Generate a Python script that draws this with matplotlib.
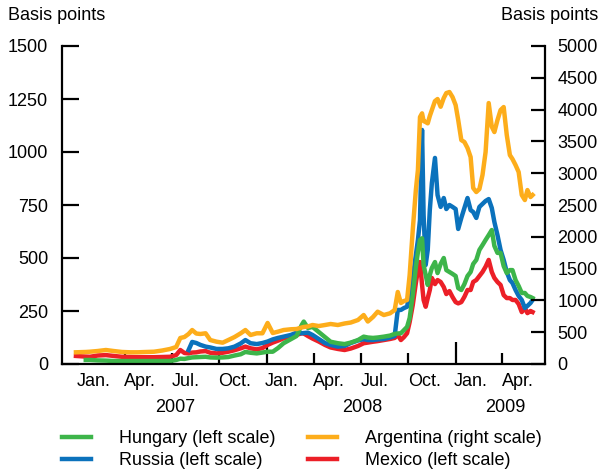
import numpy as np
import pandas as pd
import matplotlib
matplotlib.use('Agg')
import matplotlib.pyplot as plt

plt.rcParams['font.family'] = ['Liberation Sans', 'DejaVu Sans']

# 日付（読み取りグリッド）
dates = pd.to_datetime([
    '2006-12-28', '2007-01-16', '2007-01-24', '2007-02-08', '2007-02-24', '2007-03-11', '2007-03-27',
    '2007-04-12', '2007-04-27', '2007-05-13', '2007-05-28', '2007-06-13', '2007-06-28',
    '2007-07-10', '2007-07-18', '2007-07-26', '2007-08-03', '2007-08-10', '2007-08-18', '2007-08-26',
    '2007-09-05', '2007-09-14', '2007-09-26', '2007-10-08', '2007-10-19', '2007-10-31', '2007-11-12',
    '2007-11-21', '2007-12-01', '2007-12-13', '2007-12-24',
    '2008-01-03', '2008-01-13', '2008-01-23', '2008-02-03', '2008-02-17', '2008-02-28', '2008-03-09',
    '2008-03-13', '2008-03-21', '2008-03-30', '2008-04-11', '2008-04-23', '2008-05-04', '2008-05-18',
    '2008-05-31', '2008-06-12', '2008-06-26', '2008-07-07', '2008-07-15', '2008-07-25', '2008-08-03',
    '2008-08-15', '2008-08-27',
    '2008-09-05', '2008-09-11', '2008-09-17', '2008-09-23', '2008-09-29', '2008-10-04', '2008-10-10',
    '2008-10-16', '2008-10-20', '2008-10-24', '2008-10-28', '2008-10-31', '2008-11-04', '2008-11-08',
    '2008-11-12', '2008-11-16', '2008-11-22', '2008-11-27', '2008-12-03', '2008-12-09', '2008-12-14',
    '2008-12-20', '2008-12-26',
    '2009-01-01', '2009-01-06', '2009-01-12', '2009-01-18', '2009-01-24', '2009-01-30', '2009-02-04',
    '2009-02-10', '2009-02-16', '2009-02-22', '2009-02-28', '2009-03-06', '2009-03-12', '2009-03-17',
    '2009-03-23', '2009-03-29', '2009-04-04', '2009-04-10', '2009-04-16', '2009-04-21', '2009-04-27',
    '2009-05-03', '2009-05-09', '2009-05-15', '2009-05-20', '2009-05-26', '2009-05-30',
])

nan = np.nan

# Argentina (right scale)
argentina = [
    184, 189, 193, 204, 220, 204, 189, 184, 184, 189, 193, 212, 236,
    267, 409, 424, 472, 534, 479, 472, 483, 377, 351, 335, 377, 424, 483, 534, 456, 483, 483,
    645, 487, 508, 534, 546, 550, 574, 582, 590, 613, 597, 613, 629, 613, 637, 652, 692, 770, 668, 739, 822, 770, 797,
    849, 1132, 959, 990, 1006, 1399, 2107, 2735, 3050, 3883, 3941, 3820, 3804, 3784, 3899, 3993, 4134, 4166, 4045,
    4182, 4260, 4276, 4197,
    4071, 3836, 3521, 3490, 3396, 3254, 2767, 2704, 2751, 2971, 3333, 4103, 3730, 3647, 3836, 3993, 4040, 3600,
    3285, 3223, 3128, 3018, 2657, 2578, 2735, 2625, 2657,
]

# Russia (left scale)
russia = [
    nan, nan, nan, nan, nan, nan, nan, nan, nan, nan, nan, nan, nan,
    nan, nan, nan, 66, 104, 99, 90, 82, 78, 71, 71, 74, 82, 97, 113, 98, 94, 99,
    106, 116, 123, 129, 137, 148, 145, 146, 148, 137, 118, 99, 90, 82, 85, 99, 111, 117, 113, 113, 116, 118, 125,
    132, 255, 255, 264, 270, 335, 406, 514, 585, 679, 1104, 703, 467, 538, 726, 854, 972, 797, 741, 783, 731, 750, 741,
    731, 637, 689, 736, 783, 726, 717, 689, 741, 755, 769, 778, 736, 670, 608, 538, 491, 434, 396, 382, 349, 321,
    302, 264, 274, 288, 302,
]

# Hungary (left scale)
hungary = [
    nan, 19, 19, 17, 16, 14, 14, 14, 14, 14, 14, 14, 14,
    19, 25, 24, 28, 31, 32, 33, 34, 31, 30, 31, 33, 40, 46, 57, 53, 50, 54,
    58, 58, 75, 98, 117, 132, 184, 200, 170, 175, 151, 127, 105, 98, 94, 101, 113, 129, 125, 123, 125, 129, 134,
    142, 144, 145, 160, 175, 217, 325, 458, 528, 585, 593, 467, 420, 373, 420, 453, 481, 429, 472, 500, 443, 434, 425,
    415, 358, 349, 377, 415, 434, 472, 491, 538, 561, 585, 608, 632, 557, 524, 524, 462, 429, 443, 443, 396, 368,
    335, 335, 321, 316, 311,
]

# Mexico (left scale)
mexico = [
    38, 35, 34, 40, 42, 38, 34, 33, 32, 32, 32, 33, 34,
    42, 66, 52, 50, 54, 55, 59, 61, 53, 50, 53, 58, 65, 74, 82, 74, 69, 75,
    90, 101, 110, 121, 129, 137, 145, 144, 132, 120, 106, 90, 78, 71, 66, 73, 85, 98, 101, 105, 108, 113, 118,
    123, 137, 113, 127, 145, 198, 278, 382, 443, 481, 373, 302, 270, 311, 349, 406, 377, 396, 387, 363, 330, 344, 316,
    292, 286, 292, 317, 349, 349, 387, 396, 415, 434, 459, 491, 434, 406, 387, 373, 325, 311, 311, 302, 302, 283,
    245, 264, 240, 250, 245,
]

c_green = '#3db54a'
c_blue = '#0b72bc'
c_orange = '#fdad1b'
c_red = '#ec1f27'

W, H = 601, 474
fig = plt.figure(figsize=(W / 100, H / 100), dpi=100)
ax = fig.add_axes([62 / W, 1 - 364 / H, (545 - 62) / W, (364 - 46) / H])
ax2 = ax.twinx()

lm, = ax.plot(dates, mexico, color=c_red, lw=3.2, solid_joinstyle='round')
lr, = ax.plot(dates, russia, color=c_blue, lw=3.2, solid_joinstyle='round')
lh, = ax.plot(dates, hungary, color=c_green, lw=3.2, solid_joinstyle='round')
la, = ax2.plot(dates, argentina, color=c_orange, lw=3.2, solid_joinstyle='round')

ax.set_xlim(pd.Timestamp('2006-12-01'), pd.Timestamp('2009-06-23'))
ax.set_ylim(0, 1500)
ax2.set_ylim(0, 5000)
ax.set_yticks(np.arange(0, 1501, 250))
ax2.set_yticks(np.arange(0, 5001, 500))

for s in ['top', 'right']:
    ax.spines[s].set_visible(False)
for s in ['top', 'left', 'bottom']:
    ax2.spines[s].set_visible(False)
for s in ['left', 'bottom']:
    ax.spines[s].set_linewidth(1.6)
ax2.spines['right'].set_linewidth(1.6)

ax.tick_params(axis='y', direction='in', length=12, width=1.6, labelsize=13, pad=10)
ax2.tick_params(axis='y', direction='in', length=10, width=1.6, labelsize=13, pad=9)

# x軸：四半期ごとの目盛り（年の境目は長め）
ax.set_xticks([pd.Timestamp('2008-01-01'), pd.Timestamp('2009-01-01')])
ax.set_xticks([pd.Timestamp(d) for d in ['2007-04-01', '2007-07-01', '2007-10-01',
                                         '2008-04-01', '2008-07-01', '2008-10-01', '2009-04-01']], minor=True)
ax.tick_params(axis='x', which='major', direction='in', length=16, width=1.6, labelbottom=False)
ax.tick_params(axis='x', which='minor', direction='in', length=8, width=1.6, labelbottom=False)

month_labels = ['Jan.', 'Apr.', 'Jul.', 'Oct.', 'Jan.', 'Apr.', 'Jul.', 'Oct.', 'Jan.', 'Apr.']
month_pos = ['2007-01-31', '2007-05-01', '2007-07-29', '2007-11-01', '2008-01-31',
             '2008-05-01', '2008-07-29', '2008-11-01', '2009-01-31', '2009-05-01']
year_labels = ['2007', '2008', '2009']
year_pos = ['2007-07-08', '2008-07-05', '2009-04-07']

for lab, d in zip(month_labels, month_pos):
    ax.text(pd.Timestamp(d), (364 - 382) / 318, lab, transform=ax.get_xaxis_transform(),
            ha='center', va='center', fontsize=13)
for lab, d in zip(year_labels, year_pos):
    ax.text(pd.Timestamp(d), (364 - 408) / 318, lab, transform=ax.get_xaxis_transform(),
            ha='center', va='center', fontsize=13)

fig.text(8 / W, 1 - 20 / H, 'Basis points', ha='left', va='baseline', fontsize=13)
fig.text(598 / W, 1 - 20 / H, 'Basis points', ha='right', va='baseline', fontsize=13)

fig.legend([lh, lr, la, lm],
           ['Hungary (left scale)', 'Russia (left scale)', 'Argentina (right scale)', 'Mexico (left scale)'],
           ncol=2, loc='upper left', bbox_to_anchor=(62 / W, 1 - 430 / H), frameon=False,
           fontsize=13, handlelength=1.6, handletextpad=1.55, columnspacing=1.8,
           labelspacing=0.3, borderpad=0, borderaxespad=0)

fig.savefig('out.png', dpi=100)
